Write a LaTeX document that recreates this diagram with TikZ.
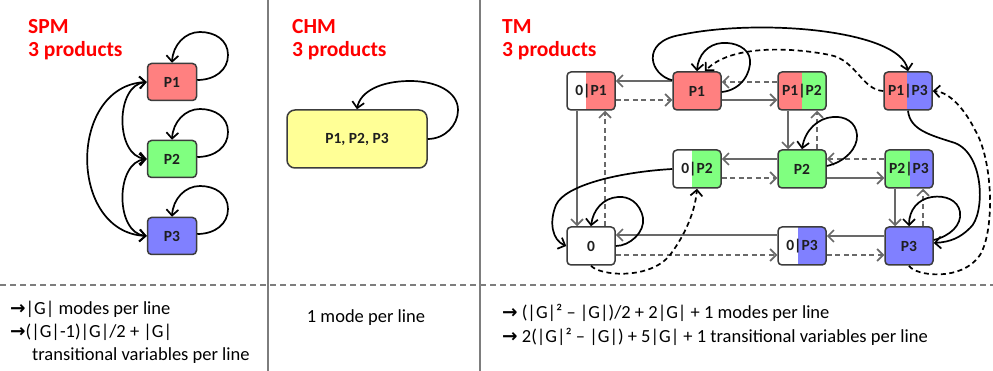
\documentclass[tikz,border=0pt]{standalone}
\usepackage{fontspec}
\setmainfont{Carlito}
\newfontfamily\arrfont{DejaVu Sans}
\usetikzlibrary{arrows.meta,calc}
\definecolor{cred}{RGB}{255,128,128}
\definecolor{cgreen}{RGB}{128,255,128}
\definecolor{cblue}{RGB}{128,128,255}
\definecolor{cyel}{RGB}{255,255,150}
\definecolor{cborder}{RGB}{60,60,60}
\definecolor{cgray}{RGB}{105,105,105}
\definecolor{csep}{RGB}{125,125,125}
\definecolor{tred}{RGB}{255,0,0}
\newcommand{\rarr}{{\arrfont\bfseries →}}
\begin{document}
\begin{tikzpicture}[x=1pt,y=-1pt,
  >={Straight Barb[length=6pt,width=12pt]},
  box/.style={draw=cborder, line width=1.5pt, rounded corners=4pt, minimum width=48pt, minimum height=38pt, inner sep=0pt, font=\fontsize{15.5}{15.5}\selectfont\bfseries, text=black!88},
  splitbox/.style n args={3}{box, path picture={
     \fill[#1,sharp corners] (path picture bounding box.south west) rectangle ([xshift=#3]path picture bounding box.north west);
     \fill[#2,sharp corners] ([xshift=#3]path picture bounding box.south west) rectangle (path picture bounding box.north east);}},
  title/.style={anchor=base west, inner sep=0pt, font=\fontsize{21.5}{21.5}\selectfont\bfseries, text=tred},
  note/.style={anchor=base west, inner sep=0pt, font=\fontsize{18.5}{18.5}\selectfont},
  gline/.style={draw=cgray, line width=1.7pt},
  gdash/.style={draw=cgray, line width=1.7pt, dash pattern=on 5pt off 3.5pt},
  bline/.style={draw=black, line width=1.7pt},
  bdash/.style={draw=black, line width=1.7pt, dash pattern=on 5pt off 3.5pt},
  sepline/.style={draw=csep, line width=2pt},
  sepdash/.style={draw=csep, line width=2pt, dash pattern=on 6pt off 4pt}
]
\fill[white] (0,0) rectangle (993,371);
\useasboundingbox (0,0) rectangle (993,371);

% separators
\draw[sepline] (268,0) -- (268,371);
\draw[sepline] (480,0) -- (480,371);
\draw[sepdash] (0,285) -- (993,285);

% titles
\node[title] (t1) at (28,34) {SPM};
\node[title] (t1b) at (28,57) {3 products};
\node[title] (t2) at (292,34) {CHM};
\node[title] (t2b) at (292,57) {3 products};
\node[title] (t3) at (502,34) {TM};
\node[title] (t3b) at (502,57) {3 products};

% SPM
\node[box, fill=cred, minimum width=49pt, minimum height=37pt] (s1) at (172,82) {P1};
\node[box, fill=cgreen, minimum width=49pt, minimum height=37pt] (s2) at (172,159) {P2};
\node[box, fill=cblue, minimum width=49pt, minimum height=37pt] (s3) at (172,236) {P3};
\foreach \n/\d in {s1/0,s2/77,s3/154}{
  \draw[bline,->] ([yshift=2pt]\n.east) .. controls (215,80+\d) and (228,70+\d) .. (228,55+\d)
     .. controls (228,40+\d) and (215,32+\d) .. (200,32+\d)
     .. controls (185,32+\d) and (173,45+\d) .. (\n.north);
}
\draw[bline,<->] (s1.west) .. controls (115,85) and (115,156) .. (s2.west);
\draw[bline,<->] (s2.west) .. controls (115,162) and (115,233) .. (s3.west);
\draw[bline,<->] (s1.west) .. controls (68,86) and (68,232) .. (s3.west);

% CHM
\node[box, fill=cyel, minimum width=140pt, minimum height=58pt, rounded corners=8pt] (c1) at (357,139) {P1, P2, P3};
\draw[bline,->] (c1.east) .. controls (445,139) and (458,125) .. (458,110)
   .. controls (458,92) and (437,81) .. (410,81)
   .. controls (380,81) and (360,92) .. (c1.north);

% TM nodes
\node[splitbox={white}{cred}{19pt}] (z1) at (591,91) {0|P1};
\node[box, fill=cred] (p1) at (697,91) {P1};
\node[splitbox={cred}{cgreen}{24pt}] (p12) at (802,91) {P1|P2};
\node[splitbox={cred}{cblue}{23pt}] (p13) at (908,91) {P1|P3};
\node[splitbox={white}{cgreen}{19pt}] (z2) at (697,169) {0|P2};
\node[box, fill=cgreen] (p2) at (802,169) {P2};
\node[splitbox={cgreen}{cblue}{25pt}] (p23) at (909,169) {P2|P3};
\node[box, fill=white] (z0) at (591,246) {0};
\node[splitbox={white}{cblue}{20pt}] (z3) at (802,246) {0|P3};
\node[box, fill=cblue] (p3) at (909,246) {P3};

% TM straight connectors
\draw[gline,->] ([yshift=10pt]p1.west) -- ([yshift=10pt]z1.east);
\draw[gdash,->] ([yshift=-9pt]z1.east) -- ([yshift=-9pt]p1.west);
\draw[gline,->] ([yshift=-9pt]p1.east) -- ([yshift=-9pt]p12.west);
\draw[gdash,->] ([yshift=9pt]p12.west) -- ([yshift=9pt]p1.east);
\draw[gline,->] ([yshift=10pt]p2.west) -- ([yshift=10pt]z2.east);
\draw[gdash,->] ([yshift=-9pt]z2.east) -- ([yshift=-9pt]p2.west);
\draw[gline,->] ([yshift=-9pt]p2.east) -- ([yshift=-9pt]p23.west);
\draw[gdash,->] ([yshift=10pt]p23.west) -- ([yshift=10pt]p2.east);
\draw[gline,->] ([yshift=10pt]p3.west) -- ([yshift=10pt]z3.east);
\draw[gdash,->] ([yshift=-9pt]z3.east) -- ([yshift=-9pt]p3.west);
\draw[gline,->] ([yshift=11pt]z3.west) -- ([yshift=11pt]z0.east);
\draw[gdash,->] ([yshift=-9pt]z0.east) -- ([yshift=-9pt]z3.west);
\draw[gline,->] ([xshift=-14pt]z1.south) -- ([xshift=-14pt]z0.north);
\draw[gdash,->] ([xshift=14pt]z0.north) -- ([xshift=14pt]z1.south);
\draw[gline,->] ([xshift=-14pt]p12.south) -- ([xshift=-14pt]p2.north);
\draw[gdash,->] ([xshift=15pt]p2.north) -- ([xshift=15pt]p12.south);
\draw[gline,->] ([xshift=-14pt]p23.south) -- ([xshift=-14pt]p3.north);
\draw[gdash,->] ([xshift=14pt]p3.north) -- ([xshift=14pt]p23.south);

% TM self loops
\draw[bline,->] ([yshift=-1pt]p1.east) .. controls (742,90) and (751,72) .. (750,60)
   .. controls (749,48) and (735,42) .. (722,43)
   .. controls (708,44) and (698,55) .. (p1.north);
\draw[bline,->] ([yshift=3pt]p2.east) .. controls (845,162) and (858,148) .. (857,135)
   .. controls (856,122) and (845,116) .. (833,117)
   .. controls (818,118) and (805,130) .. (p2.north);
\draw[bline,->] ([yshift=6pt]p3.east) .. controls (950,236) and (962,225) .. (960,212)
   .. controls (958,200) and (945,195) .. (932,197)
   .. controls (918,199) and (909,210) .. (p3.north);
\draw[bline,->] (z0.east) .. controls (630,246) and (645,232) .. (643,218)
   .. controls (640,202) and (628,196) .. (618,197)
   .. controls (603,198) and (593,210) .. (z0.north);

% TM long curves
\draw[bline,->] ([yshift=-9pt]p1.north west) .. controls (650,75) and (640,42) .. (680,35)
   .. controls (760,18) and (900,30) .. (p13.north);
\draw[bdash,->] (p13.west) .. controls (862,90) and (856,60) .. (830,55)
   .. controls (790,47) and (730,45) .. ([xshift=8pt]p1.north);
\draw[bline,->] (p13.south) .. controls (910,130) and (930,135) .. (955,143)
   .. controls (985,155) and (985,215) .. (970,228)
   .. controls (960,238) and (950,242) .. ([yshift=3pt]p3.east);
\draw[bdash,->] (p3.south) .. controls (915,276) and (962,282) .. (980,255)
   .. controls (995,230) and (993,160) .. (975,130)
   .. controls (965,110) and (950,92) .. (p13.east);
\draw[bline,->] (z2.west) .. controls (620,172) and (565,185) .. (556,205)
   .. controls (549,222) and (552,240) .. (z0.west);
\draw[bdash,->] (z0.south) .. controls (600,276) and (650,280) .. (670,255)
   .. controls (685,235) and (695,212) .. (z2.south);

% bottom notes
\node[note] (n1) at (10,315) {\rarr|G| modes per line};
\node[note] (n2) at (10,337) {\rarr(|G|-1)|G|/2 + |G|};
\node[note] (n3) at (32,360) {transitional variables per line};
\node[note, anchor=base] (n4) at (366,322) {1 mode per line};
\node[note] (n5) at (502,318) {\rarr\ (|G|² – |G|)/2 + 2|G| + 1 modes per line};
\node[note] (n6) at (502,342) {\rarr\ 2(|G|² – |G|) + 5|G| + 1 transitional variables per line};
\end{tikzpicture}
\end{document}
